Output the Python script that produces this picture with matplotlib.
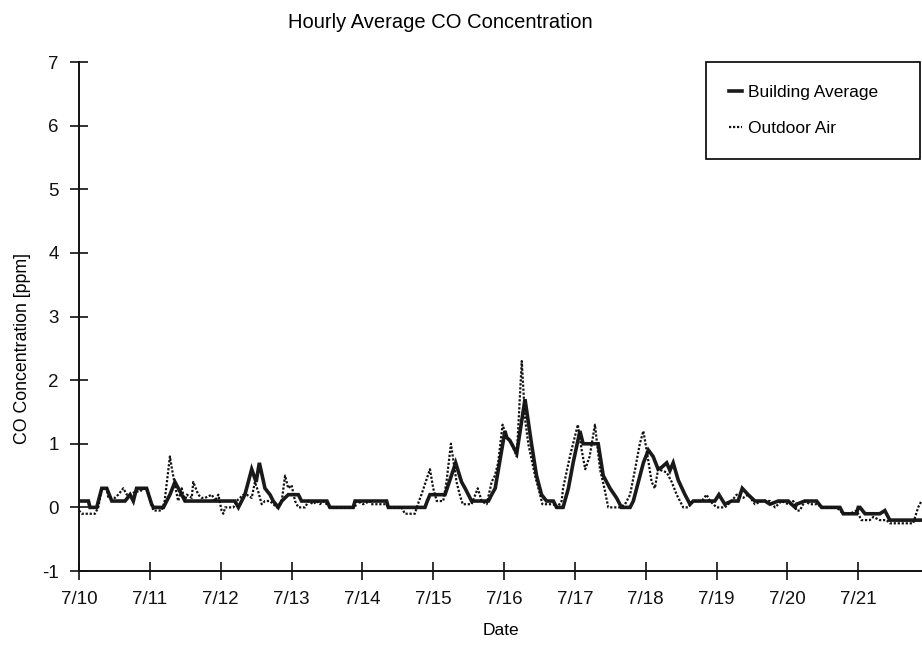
import matplotlib
matplotlib.use("Agg")
import matplotlib.pyplot as plt
import numpy as np

plt.rcParams['font.family'] = ['Liberation Sans', 'DejaVu Sans']
plt.rcParams['axes.unicode_minus'] = False

# hours since 7/10 00:00 and CO [ppm]
bld_hours = [0, 3.2, 3.7, 6.0, 7.7, 9.4, 11.1, 15.6, 17.3, 18.4, 19.5, 22.9, 24.6, 25.2, 28.6,
             30.8, 32.5, 34.8, 35.9, 52.8, 54.0, 56.2, 58.5, 60.0, 61.1, 63.0, 64.7, 65.8,
             67.5, 68.7, 70.9, 74.3, 75.4, 84.0, 85.0, 92.9, 93.5, 104.2, 104.8, 117.2,
             118.0, 118.9, 124.0, 127.6, 129.6, 130.8, 133.0, 138.7, 139.8, 141.0, 144.3,
             144.9, 146.0, 148.3, 151.1, 153.3, 155.0, 156.7, 158.4, 160.7, 161.8, 164.0,
             165.8, 167.4, 169.7, 170.8, 175.9, 177.6, 179.9, 182.1, 183.8, 186.7, 187.8,
             189.5, 191.2, 192.9, 194.5, 196.2, 197.4, 199.1, 200.2, 201.3, 203.0, 205.3,
             207.0, 208.1, 215.4, 216.8, 218.8, 221.1, 223.3, 224.7, 226.7, 229.0, 232.4,
             234.1, 236.9, 240.3, 241.4, 242.6, 243.1, 245.9, 249.9, 251.6, 257.8, 258.9,
             263.4, 264.0, 264.6, 266.3, 271.3, 273.0, 274.7, 285.5]
bld_ppm = [0.1, 0.1, 0.0, 0.0, 0.3, 0.3, 0.1, 0.1, 0.2, 0.1, 0.3, 0.3, 0.05, 0.0, 0.0,
           0.2, 0.4, 0.2, 0.1, 0.1, 0.0, 0.2, 0.6, 0.4, 0.7, 0.3, 0.2, 0.1,
           0.0, 0.1, 0.2, 0.2, 0.1, 0.1, 0.0, 0.0, 0.1, 0.1, 0.0, 0.0,
           0.1, 0.2, 0.2, 0.7, 0.4, 0.3, 0.1, 0.1, 0.2, 0.3, 1.2,
           1.1, 1.05, 0.85, 1.7, 1.0, 0.5, 0.2, 0.1, 0.1, 0.0, 0.0,
           0.3, 0.7, 1.2, 1.0, 1.0, 0.5, 0.3, 0.15, 0.0, 0.0, 0.1,
           0.4, 0.7, 0.9, 0.8, 0.6, 0.63, 0.7, 0.58, 0.7, 0.43, 0.2,
           0.05, 0.1, 0.1, 0.2, 0.05, 0.1, 0.1, 0.3, 0.2, 0.1, 0.1,
           0.05, 0.1, 0.1, 0.05, 0.0, 0.05, 0.1, 0.1, 0.0, 0.0, -0.1,
           -0.1, 0.0, 0.0, -0.1, -0.1, -0.05, -0.2, -0.2]

out_hours = [0, 1.0, 5.4, 6.5, 7.7, 9.4, 9.9, 12.2, 13.3, 15.0, 16.2, 17.8, 19.0, 20.7, 21.8,
             22.9, 25.2, 28.0, 29.0, 30.8, 31.5, 32.5, 33.6, 34.8, 35.9, 36.5, 38.2, 38.7,
             40.4, 41.5, 42.7, 45.0, 46.1, 47.2, 48.3, 48.9, 49.5, 52.3, 53.4, 55.7, 56.8,
             58.5, 59.6, 60.7, 61.9, 63.0, 64.7, 67.0, 68.7, 69.8, 70.9, 72.0, 73.2, 74.3,
             76.6, 77.7, 79.4, 80.5, 81.6, 82.8, 85.0, 93.5, 94.1, 96.3, 98.6, 99.0, 104.2,
             104.8, 109.3, 110.4, 113.8, 114.4, 116.0, 118.9, 120.0, 121.2, 123.4, 124.5,
             126.0, 127.9, 129.0, 130.0, 133.0, 135.1, 136.4, 138.1, 139.8, 140.9, 142.0,
             143.5, 144.9, 146.6, 148.3, 150.0, 151.1, 152.2, 154.5, 156.2, 157.0, 160.7,
             162.0, 163.5, 164.0, 166.3, 169.0, 170.3, 171.5, 173.0, 174.8, 176.5, 178.0,
             179.3, 183.3, 185.0, 186.7, 188.4, 190.0, 191.2, 192.3, 194.0, 195.1, 196.2,
             199.1, 200.8, 202.5, 204.7, 206.4, 208.1, 211.0, 212.6, 213.8, 216.0, 218.8,
             221.1, 222.8, 225.0, 226.7, 229.0, 231.3, 234.1, 235.8, 238.0, 240.3, 241.0,
             242.0, 243.1, 244.2, 245.9, 247.6, 249.9, 252.1, 256.7, 258.9, 261.2, 263.4,
             265.1, 267.9, 269.1, 271.3, 273.6, 274.7, 282.6, 284.3, 285.4]
out_ppm = [-0.05, -0.1, -0.1, 0.0, 0.3, 0.3, 0.15, 0.15, 0.2, 0.3, 0.2, 0.2, 0.25, 0.25, 0.3,
           0.3, -0.05, -0.05, 0.1, 0.8, 0.6, 0.35, 0.1, 0.3, 0.1, 0.2, 0.15, 0.4,
           0.2, 0.15, 0.15, 0.2, 0.1, 0.2, -0.05, -0.1, 0.0, 0.0, 0.1, 0.2, 0.2,
           0.15, 0.4, 0.25, 0.05, 0.1, 0.1, 0.0, 0.1, 0.5, 0.3, 0.35, 0.1, 0.0,
           0.0, 0.1, 0.05, 0.1, 0.05, 0.1, 0.0, 0.0, 0.1, 0.05, 0.1, 0.05, 0.05,
           0.0, 0.0, -0.1, -0.1, 0.0, 0.2, 0.6, 0.3, 0.1, 0.1, 0.4,
           1.0, 0.4, 0.2, 0.05, 0.05, 0.3, 0.1, 0.05, 0.4, 0.5, 0.7,
           1.3, 1.1, 1.0, 0.8, 2.3, 1.4, 1.0, 0.5, 0.2, 0.05, 0.05,
           0.0, 0.1, 0.3, 0.8, 1.3, 0.9, 0.6, 0.8, 1.3, 0.6, 0.3,
           0.0, 0.0, 0.05, 0.2, 0.6, 1.0, 1.2, 0.9, 0.4, 0.3, 0.6,
           0.55, 0.4, 0.2, 0.0, 0.0, 0.1, 0.1, 0.2, 0.1, 0.0, 0.0,
           0.1, 0.2, 0.15, 0.2, 0.05, 0.1, 0.1, 0.0, 0.1, 0.05, 0.05,
           0.1, -0.05, -0.05, 0.1, 0.05, 0.05, 0.0, 0.0, -0.1, -0.1, -0.05,
           -0.2, -0.2, -0.15, -0.2, -0.2, -0.25, -0.25, 0.0, 0.1]

date_labels = ['7/10', '7/11', '7/12', '7/13', '7/14', '7/15', '7/16',
               '7/17', '7/18', '7/19', '7/20', '7/21']

fig = plt.figure(figsize=(9.22, 6.48), dpi=100)
ax = fig.add_axes([0.0857, 0.1188, 0.9143, 0.7855])

ax.plot(np.array(bld_hours) / 24, bld_ppm, color='#1a1a1a', lw=2.6,
        solid_joinstyle='miter', label='Building Average')
ax.plot(np.array(out_hours) / 24, out_ppm, color='#111111', lw=1.6,
        linestyle=(0, (1, 0.8)), label='Outdoor Air')

ax.set_xlim(0, 285.6 / 24)
ax.set_ylim(-1, 7)
ax.set_xticks(range(len(date_labels)))
ax.set_xticklabels(date_labels)
ax.set_yticks(range(-1, 8))
ax.tick_params(direction='inout', length=13, width=1.2, labelsize=13.5, pad=8,
               colors='#111111')

for s in ['top', 'right']:
    ax.spines[s].set_visible(False)
for s in ['left', 'bottom']:
    ax.spines[s].set_linewidth(1.4)
    ax.spines[s].set_color('#111111')

ax.set_xlabel('Date', fontsize=12.5, labelpad=11)
ax.set_ylabel('CO Concentration [ppm]', fontsize=12.8)
ax.yaxis.set_label_coords(-0.057, 0.438)
fig.text(0.478, 0.966, 'Hourly Average CO Concentration', fontsize=14.5,
         ha='center', va='center')

leg = ax.legend(loc='upper left', bbox_to_anchor=(0.744, 0.8035, 0.254, 0.1965),
                mode='expand', fontsize=12.5, frameon=True, fancybox=False,
                edgecolor='black', framealpha=1, borderpad=1.3, labelspacing=1.22,
                handlelength=0.75, handletextpad=0.35, borderaxespad=0)
leg.get_frame().set_linewidth(1.2)

fig.savefig('out.png', dpi=100)
